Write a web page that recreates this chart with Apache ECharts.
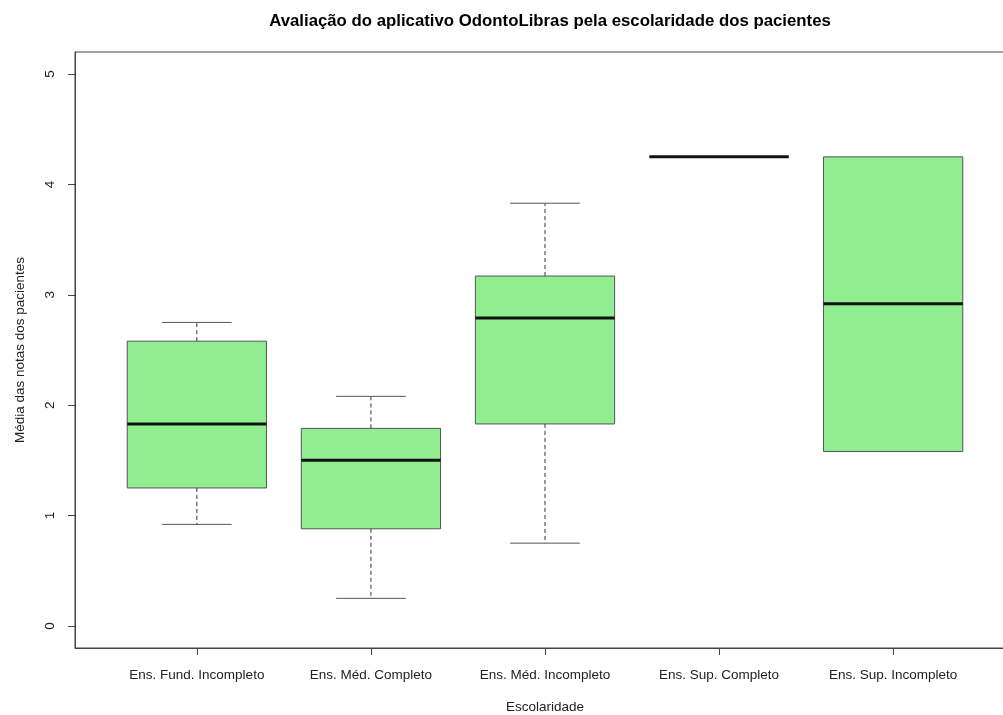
<!DOCTYPE html>
<html>
<head>
<meta charset="utf-8">
<title>Avaliação do aplicativo OdontoLibras</title>
<script src="https://cdn.jsdelivr.net/npm/echarts@6/dist/echarts.min.js"></script>
<style>
  html, body { margin: 0; padding: 0; background: #ffffff; }
  #chart { width: 1003px; height: 715px; }
</style>
</head>
<body>
<div id="chart"></div>
<script>
// Escolaridade groups and their five-number summaries
const categories = [
  'Ens. Fund. Incompleto',
  'Ens. Méd. Completo',
  'Ens. Méd. Incompleto',
  'Ens. Sup. Completo',
  'Ens. Sup. Incompleto'
];
const lowerWhisker = [0.92, 0.25, 0.75, 4.25, 1.58];
const lowerQuartile = [1.25, 0.88, 1.83, 4.25, 1.58];
const medianValue = [1.83, 1.50, 2.79, 4.25, 2.92];
const upperQuartile = [2.58, 1.79, 3.17, 4.25, 4.25];
const upperWhisker = [2.75, 2.08, 3.83, 4.25, 4.25];
const yTicks = [0, 1, 2, 3, 4, 5];

const positions = categories.map((_, i) => i + 1);
const boxData = categories.map((_, i) => [
  positions[i], lowerWhisker[i], lowerQuartile[i], medianValue[i], upperQuartile[i], upperWhisker[i]
]);

const FONT = '"Liberation Sans", Arial, sans-serif';
const TEXT_SIZE = 13.5;
const BOX_WIDTH = 0.8;
const CAP_WIDTH = 0.4;

function renderBox(params, api) {
  const x = api.value(0);
  const lo = api.coord([x, api.value(1)]);
  const q1 = api.coord([x, api.value(2)]);
  const md = api.coord([x, api.value(3)]);
  const q3 = api.coord([x, api.value(4)]);
  const hi = api.coord([x, api.value(5)]);
  const halfBox = api.size([BOX_WIDTH, 0])[0] / 2;
  const halfCap = api.size([CAP_WIDTH, 0])[0] / 2;
  const cx = md[0];
  const children = [];
  const dashed = { stroke: '#333', lineWidth: 1, lineDash: [4, 3] };
  const solid = { stroke: '#555', lineWidth: 1 };
  if (hi[1] < q3[1]) {
    children.push({ type: 'line', shape: { x1: cx, y1: q3[1], x2: cx, y2: hi[1] }, style: dashed });
    children.push({ type: 'line', shape: { x1: cx - halfCap, y1: hi[1], x2: cx + halfCap, y2: hi[1] }, style: solid });
  }
  if (lo[1] > q1[1]) {
    children.push({ type: 'line', shape: { x1: cx, y1: q1[1], x2: cx, y2: lo[1] }, style: dashed });
    children.push({ type: 'line', shape: { x1: cx - halfCap, y1: lo[1], x2: cx + halfCap, y2: lo[1] }, style: solid });
  }
  children.push({
    type: 'rect',
    shape: { x: cx - halfBox, y: q3[1], width: halfBox * 2, height: q1[1] - q3[1] },
    style: { fill: '#90EE90', stroke: '#555', lineWidth: 1 }
  });
  children.push({
    type: 'line',
    shape: { x1: cx - halfBox, y1: md[1], x2: cx + halfBox, y2: md[1] },
    style: { stroke: '#111', lineWidth: 3 }
  });
  return { type: 'group', children };
}

const chart = echarts.init(document.getElementById('chart'), null, { renderer: 'canvas' });
chart.setOption({
  animation: false,
  backgroundColor: '#ffffff',
  title: {
    text: 'Avaliação do aplicativo OdontoLibras pela escolaridade dos pacientes',
    left: 545,
    top: 8,
    textAlign: 'center',
    textStyle: { fontFamily: FONT, fontSize: 16.8, fontWeight: 'bold', color: '#000' }
  },
  grid: {
    left: 75, top: 52, width: 940, height: 596,
    outerBoundsMode: 'none',
    containLabel: false,
    show: true, borderColor: '#444', borderWidth: 1, backgroundColor: 'transparent'
  },
  xAxis: {
    type: 'value',
    min: 0.3, max: 5.7,
    splitLine: { show: false },
    axisLine: { show: true, onZero: false, lineStyle: { color: '#444', width: 1 } },
    axisTick: { show: true, inside: false, length: 7, customValues: positions, lineStyle: { color: '#444' } },
    axisLabel: {
      show: true, margin: 20, customValues: positions,
      formatter: v => categories[Math.round(v) - 1] || '',
      fontFamily: FONT, fontSize: TEXT_SIZE, color: '#222'
    },
    name: 'Escolaridade',
    nameLocation: 'middle',
    nameGap: 52,
    nameTextStyle: { fontFamily: FONT, fontSize: TEXT_SIZE, color: '#222' }
  },
  yAxis: {
    type: 'value',
    min: -0.2, max: 5.2,
    splitLine: { show: false },
    axisLine: { show: true, onZero: false, lineStyle: { color: '#444', width: 1 } },
    axisTick: { show: true, inside: false, length: 7, customValues: yTicks, lineStyle: { color: '#444' } },
    axisLabel: {
      show: true, margin: 18, rotate: 90, customValues: yTicks,
      fontFamily: FONT, fontSize: TEXT_SIZE, color: '#222'
    },
    name: 'Média das notas dos pacientes',
    nameLocation: 'middle',
    nameGap: 48,
    nameTextStyle: { fontFamily: FONT, fontSize: TEXT_SIZE, color: '#222' }
  },
  series: [{
    type: 'custom',
    renderItem: renderBox,
    encode: { x: 0, y: [1, 2, 3, 4, 5] },
    data: boxData,
    clip: false
  }]
});
</script>
</body>
</html>
